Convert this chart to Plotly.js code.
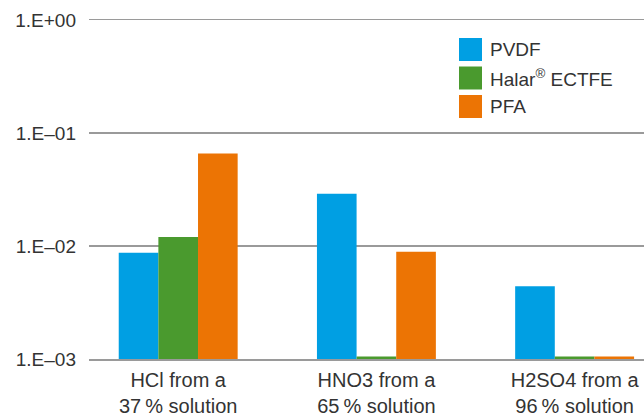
<!DOCTYPE html>
<html><head><meta charset="utf-8">
<script src="https://cdn.plot.ly/plotly-3.0.1.min.js"></script>
<style>html,body{margin:0;padding:0;background:#fff}#c{width:644px;height:414px}</style>
</head><body><div id="c"></div>
<script>
const categories = ["HCl from a<br>37\u2009% solution", "HNO3 from a<br>65\u2009% solution", "H2SO4 from a<br>96\u2009% solution"];
const seriesNames = ["PVDF", "Halar<sup>®</sup> ECTFE", "PFA"];
const pvdf = [0.0087, 0.029, 0.0044];
const halar = [0.012, 0.00105, 0.00105];
const pfa = [0.066, 0.0089, 0.00105];
const colors = ["#009FE3", "#4A9A2E", "#EC7404"];
const tickVals = [0.001, 0.01, 0.1, 1];
const tickText = ["1.E\u201303", "1.E\u201302", "1.E\u201301", "1.E+00"];

const values = [pvdf, halar, pfa];
const font = {family: "Liberation Sans, Arial, sans-serif", size: 19, color: "#333333"};
const xfont = {family: "Liberation Sans, Arial, sans-serif", size: 20, color: "#333333"};
const traces = values.map((v, i) => ({
  type: "bar", x: [0, 1, 2], y: v, name: seriesNames[i],
  marker: {color: colors[i], line: {width: 0}}, showlegend: false, hoverinfo: "skip"
}));

// custom legend (paper coordinates)
const shapes = [], annotations = [];
seriesNames.forEach((n, i) => {
  const top = 1 - (38 + i * 28.5 - 20) / 339;
  const bot = 1 - (61 + i * 28.5 - 20) / 339;
  shapes.push({type: "rect", xref: "paper", yref: "paper",
    x0: (459 - 89) / 555, x1: (482 - 89) / 555, y0: bot, y1: top,
    fillcolor: colors[i], line: {width: 0}});
  annotations.push({xref: "paper", yref: "paper", x: (488 - 89) / 555, y: (top + bot) / 2,
    xanchor: "left", yanchor: "middle", text: n, showarrow: false, font: font});
});

const layout = {
  width: 644, height: 414,
  margin: {l: 89, r: 0, t: 20, b: 55},
  paper_bgcolor: "#fff", plot_bgcolor: "#fff",
  font: font,
  barmode: "group", bargap: 0.4, bargroupgap: 0,
  xaxis: {range: [-0.45, 2.35], tickvals: [0, 1, 2], ticktext: categories,
    showgrid: false, zeroline: false, showline: true, mirror: true, linecolor: "#9a9a9a", linewidth: 1.5,
    ticks: "", ticklabelstandoff: 2, tickfont: xfont, fixedrange: true},
  yaxis: {type: "log", range: [-3, 0], tickvals: tickVals, ticktext: tickText,
    showgrid: true, gridcolor: "#9a9a9a", gridwidth: 1.5, zeroline: false, showline: false,
    ticks: "", ticklabelstandoff: 12, tickfont: font, fixedrange: true},
  shapes: shapes, annotations: annotations
};
Plotly.newPlot("c", traces, layout, {displayModeBar: false, staticPlot: true});
</script></body></html>
